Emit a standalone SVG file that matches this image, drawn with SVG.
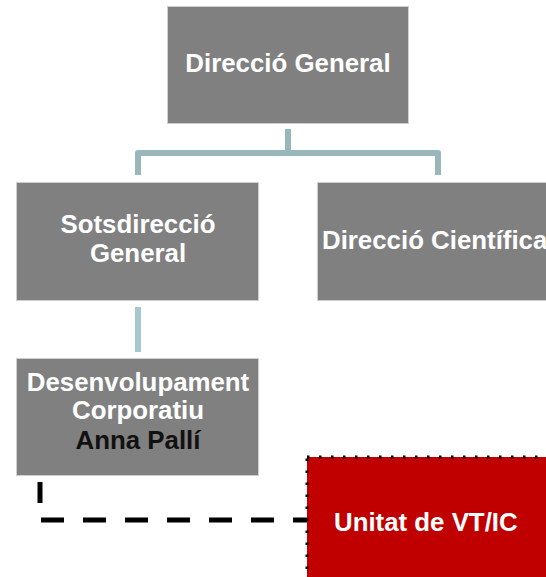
<svg xmlns="http://www.w3.org/2000/svg" width="546" height="577" viewBox="0 0 546 577">
<style>
.box{fill:#808080;stroke:#cfcfcf;stroke-width:1}
.t{font-family:"Liberation Sans",Arial,sans-serif;font-weight:bold;font-size:26.5px;fill:#ffffff;text-anchor:middle}
.s{text-anchor:start}
.dark{fill:#111111}
.tree{fill:none;stroke:#97b7bb;stroke-width:6;stroke-linejoin:round}
.dash{fill:none;stroke:#000;stroke-width:5}
</style>
<rect width="546" height="577" fill="#ffffff"/>
<g id="connectors">
<path class="tree" d="M288,129 V153 M138,175 V153 H438 V175"/>
<path class="tree" d="M138,307 V352" style="stroke:#a3c9cd"/>
<path class="dash" d="M40,482 V503"/>
<path class="dash" d="M41,520 H308" stroke-dasharray="23 19"/>
</g>
<g id="direccio-general">
<rect class="box" x="167.5" y="6.5" width="241" height="117"/>
<text class="t" transform="translate(288,72) scale(0.975,1)">Direcció General</text>
</g>
<g id="sotsdireccio-general">
<rect class="box" x="16.5" y="182.5" width="242" height="118"/>
<text class="t" transform="translate(138,233) scale(0.975,1)">Sotsdirecció</text>
<text class="t" transform="translate(138,262) scale(0.975,1)">General</text>
</g>
<g id="direccio-cientifica">
<rect class="box" x="317.5" y="182.5" width="240" height="118"/>
<text class="t s" transform="translate(322,249) scale(0.975,1)">Direcció Científica</text>
</g>
<g id="desenvolupament-corporatiu">
<rect class="box" x="16.5" y="358.5" width="242" height="117"/>
<text class="t" transform="translate(138,391) scale(0.975,1)">Desenvolupament</text>
<text class="t" transform="translate(138,419) scale(0.975,1)">Corporatiu</text>
<text class="t dark" transform="translate(138,449) scale(0.975,1)">Anna Pallí</text>
</g>
<g id="unitat-vt-ic">
<rect x="307" y="457" width="250" height="130" fill="#c00000" stroke="#000" stroke-width="3" stroke-dasharray="2.5 9.5"/>
<text class="t s" transform="translate(334,531) scale(0.975,1)">Unitat de VT/IC</text>
</g>
</svg>
